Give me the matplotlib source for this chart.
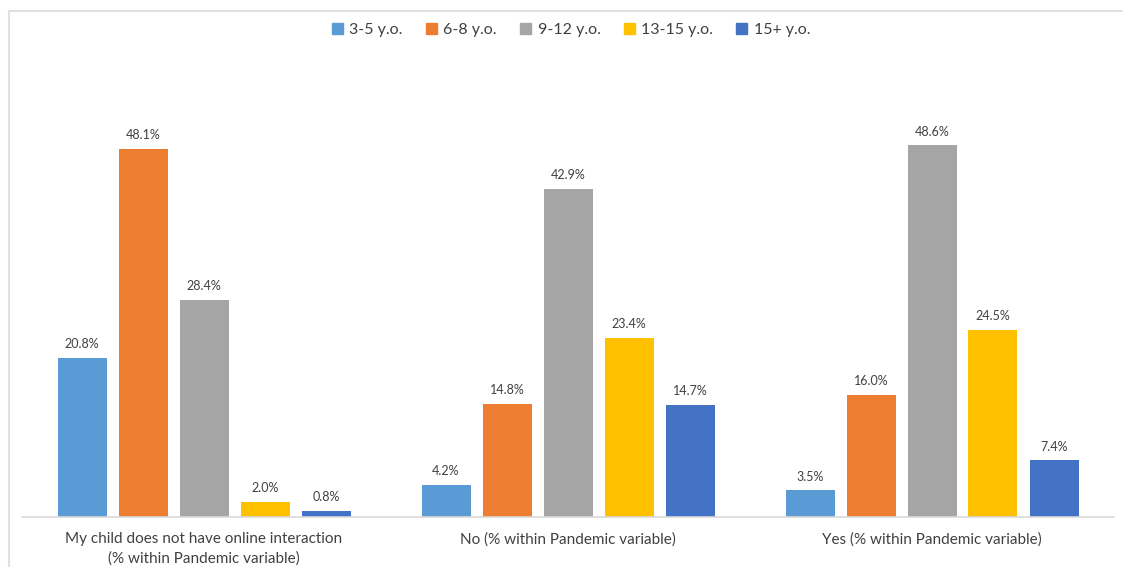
import numpy as np
import matplotlib.pyplot as plt
from matplotlib.patches import Rectangle, Patch

plt.rcParams['font.family'] = ['Lato', 'DejaVu Sans']

categories = ["My child does not have online interaction\n(% within Pandemic variable)",
              "No (% within Pandemic variable)",
              "Yes (% within Pandemic variable)"]
age_groups = ["3-5 y.o.", "6-8 y.o.", "9-12 y.o.", "13-15 y.o.", "15+ y.o."]
values = [
    [20.8, 4.2, 3.5],    # 3-5
    [48.1, 14.8, 16.0],  # 6-8
    [28.4, 42.9, 48.6],  # 9-12
    [2.0, 23.4, 24.5],   # 13-15
    [0.8, 14.7, 7.4],    # 15+
]
colors = ["#5B9BD5", "#ED7D31", "#A5A5A5", "#FFC000", "#4472C4"]

W, H = 1123, 567
fig = plt.figure(figsize=(W / 100, H / 100), dpi=100)
ax = fig.add_axes([22 / W, 50 / H, (1114 - 22) / W, (517 - 58) / H])

x = np.arange(len(categories))
step = 61 / 364
width = 49 / 364
for i, (name, vals) in enumerate(zip(age_groups, values)):
    pos = x + (i - 2) * step
    bars = ax.bar(pos, vals, width, color=colors[i], label=name, zorder=2)
    for b, v in zip(bars, vals):
        ax.text(b.get_x() + b.get_width() / 2, v + 1.0, f"{v:.1f}%",
                ha="center", va="bottom", fontsize=9, color="#404040")

ax.set_xlim(-0.5, 2.5)
ax.set_ylim(0, 60)
ax.set_yticks([])
ax.set_xticks(x)
ax.set_xticklabels(categories, fontsize=11, color="#404040", linespacing=1.45)
ax.tick_params(axis="x", length=0, pad=11)
for s in ["top", "right", "left"]:
    ax.spines[s].set_visible(False)
ax.spines["bottom"].set_color("#D9D9D9")
ax.spines["bottom"].set_linewidth(1.2)

handles = [Patch(color=c) for c in colors]
fig.legend(handles, age_groups, loc="center", bbox_to_anchor=(571 / W, 1 - 30 / H),
           ncol=5, frameon=False, fontsize=11.5, handlelength=0.7, handleheight=0.7,
           handletextpad=0.4, columnspacing=1.45, labelcolor="#404040")

fig.patches.append(Rectangle((9 / W, -0.1), 1.2, 1 - 11 / H + 0.1,
                             transform=fig.transFigure, fill=False,
                             edgecolor="#E0E0E0", linewidth=1.5))

fig.savefig("out.png", dpi=100)
